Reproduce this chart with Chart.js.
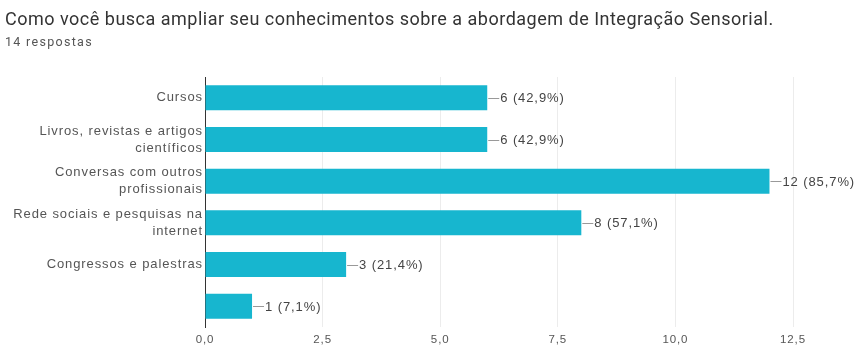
<!DOCTYPE html>
<html>
<head>
<meta charset="utf-8">
<script src="https://cdn.jsdelivr.net/npm/chart.js@4"></script>
<style>
  body { margin:0; background:#fff; font-family: Roboto, "Noto Sans", sans-serif; }
  #wrap { position:relative; width:860px; height:355px; }
  #titulo { position:absolute; left:5px; top:8px; font-size:18px; letter-spacing:0.5px; color:#333; white-space:nowrap; }
  #sub { position:absolute; left:5px; top:34px; font-size:12.5px; letter-spacing:1.3px; color:#555; }
  canvas { position:absolute; left:0; top:0; }
</style>
</head>
<body>
<div id="wrap">
  <canvas id="myChart" width="860" height="355"></canvas>
  <div id="titulo">Como você busca ampliar seu conhecimentos sobre a abordagem de Integração Sensorial.</div>
  <div id="sub">14 respostas</div>
</div>
<script>
var categorias = [
    "Cursos",
    ["Livros, revistas e artigos", "científicos"],
    ["Conversas com outros", "profissionais"],
    ["Rede sociais e pesquisas na", "internet"],
    "Congressos e palestras",
    ""
]
var respostas = [6, 6, 12, 8, 3, 1]
var totalRespostas = 14
var ticksX = ["0,0", "2,5", "5,0", "7,5", "10,0", "12,5"]

var corBarra = '#17b6cf'
var fonte = '"Liberation Sans", Arial, sans-serif'

// o texto do grafico original parece "esticado", entao um pouco de espaco entre letras
var espacamento = {
    id: 'espacamento',
    beforeUpdate: function(chart){ chart.ctx.letterSpacing = '0.9px' },
    beforeDraw: function(chart){ chart.ctx.letterSpacing = '0.9px' }
}

// rotulos "—6 (42,9%)" no fim de cada barra
var rotulos = {
    id: 'rotulos',
    afterDatasetsDraw: function(chart){
        var ctx = chart.ctx
        var meta = chart.getDatasetMeta(0)
        ctx.save()
        ctx.font = '13px ' + fonte
        ctx.fillStyle = '#444'
        ctx.strokeStyle = '#999'
        ctx.lineWidth = 1
        ctx.textBaseline = 'middle'
        meta.data.forEach(function(bar, i){
            var v = respostas[i]
            var pct = (v / totalRespostas * 100).toFixed(1).replace('.', ',')
            ctx.beginPath()
            ctx.moveTo(bar.x + 1, Math.round(bar.y) + 0.5)
            ctx.lineTo(bar.x + 12, Math.round(bar.y) + 0.5)
            ctx.stroke()
            ctx.fillText(v + ' (' + pct + '%)', bar.x + 13, bar.y + 1)
        })
        ctx.restore()
    }
}

var ctx = document.getElementById('myChart').getContext('2d')
var myChart = new Chart(ctx, {
    type: 'bar',
    data: {
        labels: categorias,
        datasets: [{
            data: respostas,
            backgroundColor: corBarra,
            borderWidth: 0,
            barPercentage: 0.6,
            categoryPercentage: 1
        }]
    },
    options: {
        indexAxis: 'y',
        responsive: false,
        animation: false,
        layout: { padding: { left: 0, right: 67, top: 77, bottom: 4 } },
        plugins: { legend: { display: false }, tooltip: { enabled: false } },
        scales: {
            x: {
                min: 0,
                max: 12.5,
                afterFit: function(s){ s.height = 24 },
                ticks: {
                    stepSize: 2.5,
                    color: '#555',
                    font: { size: 11.5, family: fonte },
                    padding: 6,
                    callback: function(val, i){ return ticksX[i] }
                },
                grid: { color: '#ececec', drawTicks: false },
                border: { display: false }
            },
            y: {
                afterFit: function(s){ s.width = 205 },
                ticks: {
                    color: '#555',
                    font: { size: 13, family: fonte, lineHeight: 1.3 },
                    padding: 2
                },
                grid: { display: false, drawTicks: false },
                border: { color: '#333', width: 1 }
            }
        }
    },
    plugins: [espacamento, rotulos]
})
</script>
</body>
</html>
